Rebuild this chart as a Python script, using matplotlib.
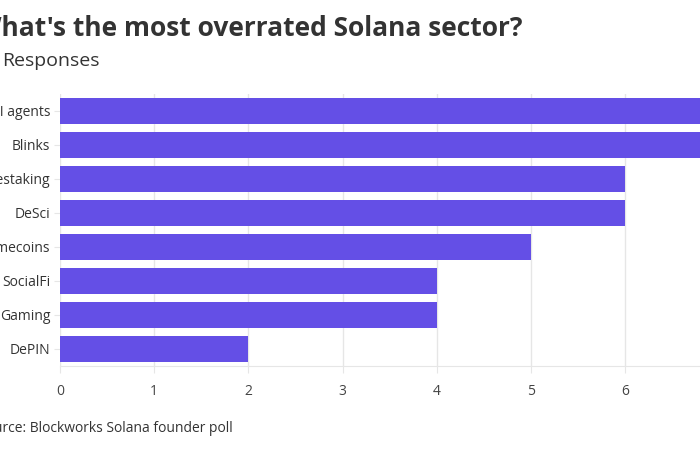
import matplotlib.pyplot as plt

plt.rcParams['font.family'] = ['Open Sans', 'DejaVu Sans']

sectors = ["AI agents", "Blinks", "Restaking", "DeSci", "Memecoins",
           "SocialFi", "Gaming", "DePIN"]
responses = [7, 7, 6, 6, 5, 4, 4, 2]
x_ticks = [0, 1, 2, 3, 4, 5, 6, 7]

BAR = "#644fe6"
TXT = "#333333"
GRID = "#e6e6e6"

W, H = 700, 450
fig = plt.figure(figsize=(7, 4.5), dpi=100)

# axes run off the right edge like the cropped original
left, right, top, bottom = 60, 60 + 94.2 * 8, 94, 366
ax = fig.add_axes([left / W, 1 - bottom / H, (right - left) / W, (bottom - top) / H])

ypos = list(range(len(sectors)))
ax.barh(ypos, responses, height=0.77, color=BAR, zorder=3)
ax.set_xlim(0, 8)
ax.set_ylim(len(sectors) - 0.5, -0.5)

ax.set_yticks(ypos)
ax.set_yticklabels(sectors, fontsize=10, color=TXT)
ax.set_xticks(x_ticks)
ax.set_xticklabels([str(t) for t in x_ticks], fontsize=10, color="#444444")
ax.tick_params(axis="y", length=4, color=GRID, pad=3)
ax.tick_params(axis="x", length=5, color=GRID, pad=8)

ax.grid(axis="x", color=GRID, linewidth=1, zorder=0)
for s in ["top", "right", "left"]:
    ax.spines[s].set_visible(False)
ax.spines["bottom"].set_color(GRID)

fig.text(523 / W, 1 - 28 / H, "What's the most overrated Solana sector?",
         ha="right", va="center", fontsize=19, fontweight="bold", color=TXT)
fig.text(2 / W, 1 - 61 / H, "Responses", ha="left", va="center",
         fontsize=14, color=TXT)
fig.text(233 / W, 1 - 428 / H, "Source: Blockworks Solana founder poll",
         ha="right", va="center", fontsize=10, color=TXT)

fig.savefig("out.png", dpi=100, facecolor="white")
